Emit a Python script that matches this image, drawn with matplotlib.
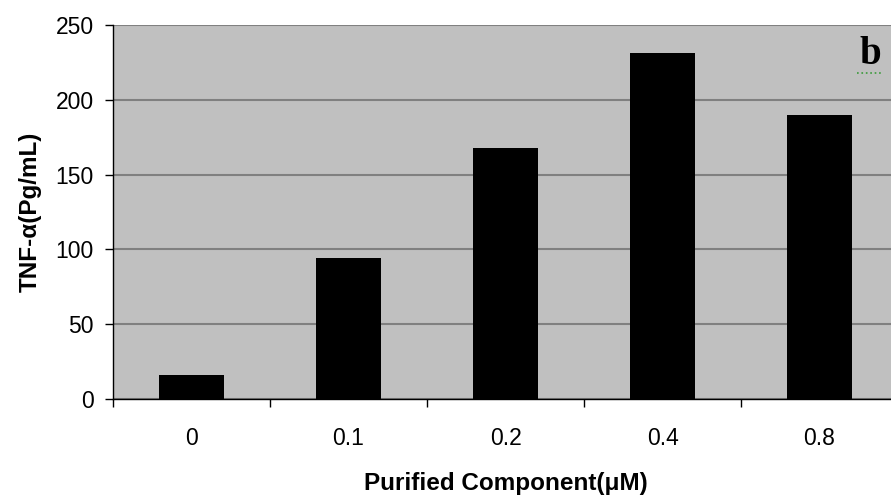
import matplotlib
matplotlib.use("Agg")
import matplotlib.pyplot as plt
import numpy as np

categories = ["0", "0.1", "0.2", "0.4", "0.8"]
values = [16, 94, 168, 231, 190]
yticks = [0, 50, 100, 150, 200, 250]

plt.rcParams['font.family'] = ['Liberation Sans', 'DejaVu Sans']

fig = plt.figure(figsize=(8.91, 4.97), dpi=100)
ax = fig.add_axes([113/891, 1-399/497, 785/891, 374/497])
ax.set_facecolor('#C0C0C0')

x = np.arange(len(categories))
ax.bar(x, values, width=0.41, color='black', zorder=3)

ax.set_xlim(-0.5, len(categories) - 0.5)
ax.set_ylim(0, 250)
ax.set_yticks(yticks)
ax.yaxis.grid(True, color='#808080', linewidth=1.5, zorder=1)
ax.set_axisbelow(True)

ax.set_xticks(x)
ax.set_xticklabels(categories)
ax.tick_params(axis='x', which='major', length=0, pad=20, labelsize=16.5)
ax.set_xticks(np.arange(-0.5, len(categories) + 0.5, 1.0), minor=True)
ax.tick_params(axis='x', which='minor', length=6, width=1, color='black', direction='out')
ax.tick_params(axis='y', length=6, width=1, color='black', direction='out', pad=8, labelsize=16.5)

for s in ['top', 'right']:
    ax.spines[s].set_visible(False)
ax.spines['left'].set_color('black')
ax.spines['bottom'].set_color('black')
ax.spines['left'].set_linewidth(1)
ax.spines['bottom'].set_linewidth(1)

ax.set_xlabel("Purified Component(\u03bcM)", fontsize=17.5, fontweight='bold', labelpad=16)
ax.set_ylabel("TNF-\u03b1(Pg/mL)", fontsize=17.5, fontweight='bold', labelpad=10)

fig.text(870/891, 1-54/497, "b", fontsize=28, fontweight='bold',
         family=['Liberation Serif', 'DejaVu Serif'], ha='center', va='center')
fig.add_artist(plt.Line2D([857/891, 883/891], [1-73/497, 1-73/497],
                          color='#3a9a3a', linewidth=1.2, linestyle=':'))

fig.savefig("out.png", dpi=100)
